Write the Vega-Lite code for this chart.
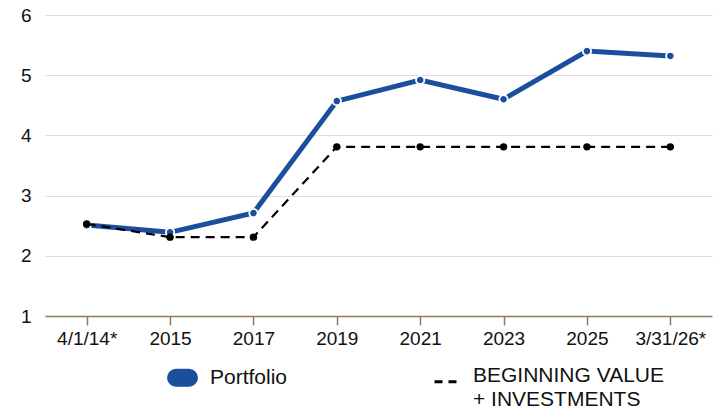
{
  "$schema": "https://vega.github.io/schema/vega-lite/v6.json",
  "width": 667,
  "height": 301,
  "autosize": "none",
  "padding": {"left": 45, "top": 15, "right": 12, "bottom": 95},
  "config": {
    "font": "Liberation Sans",
    "view": {"stroke": null}
  },
  "data": {
    "values": [
      {"period": "4/1/14*", "series": "Portfolio", "value": 2.51},
      {"period": "2015", "series": "Portfolio", "value": 2.39},
      {"period": "2017", "series": "Portfolio", "value": 2.71},
      {"period": "2019", "series": "Portfolio", "value": 4.57},
      {"period": "2021", "series": "Portfolio", "value": 4.92},
      {"period": "2023", "series": "Portfolio", "value": 4.60},
      {"period": "2025", "series": "Portfolio", "value": 5.40},
      {"period": "3/31/26*", "series": "Portfolio", "value": 5.32},
      {"period": "4/1/14*", "series": "BEGINNING VALUE + INVESTMENTS", "value": 2.53},
      {"period": "2015", "series": "BEGINNING VALUE + INVESTMENTS", "value": 2.31},
      {"period": "2017", "series": "BEGINNING VALUE + INVESTMENTS", "value": 2.31},
      {"period": "2019", "series": "BEGINNING VALUE + INVESTMENTS", "value": 3.81},
      {"period": "2021", "series": "BEGINNING VALUE + INVESTMENTS", "value": 3.81},
      {"period": "2023", "series": "BEGINNING VALUE + INVESTMENTS", "value": 3.81},
      {"period": "2025", "series": "BEGINNING VALUE + INVESTMENTS", "value": 3.81},
      {"period": "3/31/26*", "series": "BEGINNING VALUE + INVESTMENTS", "value": 3.81}
    ]
  },
  "encoding": {
    "x": {
      "field": "period",
      "type": "ordinal",
      "sort": null,
      "scale": {"type": "point", "padding": 0.5},
      "axis": {
        "title": null,
        "labelAngle": 0,
        "labelFontSize": 19,
        "labelColor": "#111",
        "labelPadding": 4,
        "domainColor": "#8c7b5f",
        "domainWidth": 1.5,
        "tickColor": "#8c7b5f",
        "tickWidth": 1.5,
        "tickSize": 9,
        "grid": false
      }
    },
    "y": {
      "field": "value",
      "type": "quantitative",
      "scale": {"domain": [1, 6], "zero": false, "nice": false},
      "axis": {
        "title": null,
        "values": [1, 2, 3, 4, 5, 6],
        "domain": false,
        "ticks": false,
        "labelFontSize": 19,
        "labelColor": "#111",
        "labelPadding": 14,
        "gridColor": "#dddddd",
        "gridWidth": 1
      }
    },
    "color": {
      "field": "series",
      "type": "nominal",
      "scale": {
        "domain": ["Portfolio", "BEGINNING VALUE + INVESTMENTS"],
        "range": ["#1c4e9e", "#000000"]
      },
      "legend": {
        "title": null,
        "orient": "none",
        "legendX": 127,
        "legendY": 352,
        "direction": "horizontal",
        "columns": 2,
        "columnPadding": 140,
        "symbolType": "stroke",
        "symbolSize": 400,
        "labelFontSize": 21,
        "labelColor": "#111",
        "labelOffset": 17,
        "labelLimit": 400,
        "labelExpr": "datum.value == 'Portfolio' ? datum.label : ['BEGINNING VALUE', '+ INVESTMENTS']",
        "encode": {
          "symbols": {
            "update": {
              "strokeWidth": {"signal": "datum.value == 'Portfolio' ? 18 : 3"},
              "strokeCap": {"signal": "datum.value == 'Portfolio' ? 'round' : 'butt'"},
              "strokeDash": {"signal": "datum.value == 'Portfolio' ? [1, 0] : [8, 6]"},
              "size": {"signal": "datum.value == 'Portfolio' ? 169 : 484"},
              "opacity": {"value": 1}
            }
          },
          "labels": {
            "update": {
              "lineHeight": {"value": 24},
              "dy": {"signal": "datum.value == 'Portfolio' ? 0 : -6"}
            }
          }
        }
      }
    }
  },
  "layer": [
    {
      "transform": [{"filter": "datum.series == 'Portfolio'"}],
      "mark": {
        "type": "line",
        "strokeWidth": 5,
        "point": {"filled": true, "size": 70, "stroke": "white", "strokeWidth": 1.8, "fill": "#1c4e9e"}
      }
    },
    {
      "transform": [{"filter": "datum.series != 'Portfolio'"}],
      "mark": {
        "type": "line",
        "strokeWidth": 2.2,
        "strokeDash": [9, 6],
        "point": {"filled": true, "size": 55, "fill": "#000000"}
      }
    }
  ]
}
